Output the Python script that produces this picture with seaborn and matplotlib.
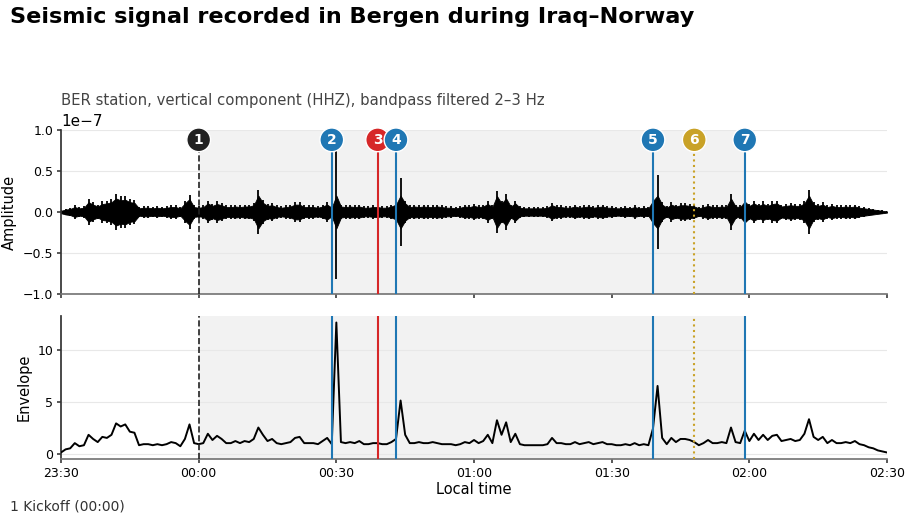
import matplotlib
matplotlib.use("Agg")
import matplotlib.pyplot as plt
import seaborn as sns
import pandas as pd
import numpy as np


# minutes after 23:30 (one sample per minute)
minutes = list(range(0, 181))

# envelope
envelope = [
  0.1, 0.4, 0.5, 1.0, 0.7, 0.8, 1.8, 1.4, 1.1, 1.6,
  1.5, 1.8, 2.9, 2.6, 2.8, 2.1, 2.0, 0.8, 0.9, 0.9,
  0.8, 0.9, 0.8, 0.9, 1.1, 1.0, 0.7, 1.4, 2.8, 1.0,
  0.9, 1.0, 1.9, 1.3, 1.7, 1.4, 1.0, 1.0, 1.2, 1.0,
  1.2, 1.1, 1.4, 2.5, 1.8, 1.2, 1.4, 1.0, 0.9, 1.0,
  1.1, 1.5, 1.6, 1.0, 1.0, 1.0, 0.9, 1.2, 1.5, 0.9,
  12.6, 1.1, 1.0, 1.1, 1.0, 1.2, 0.9, 0.9, 1.0, 1.0,
  0.9, 0.9, 1.1, 1.4, 5.1, 1.8, 1.0, 1.0, 1.1, 1.0,
  1.0, 1.1, 1.0, 0.9, 0.9, 0.9, 0.8, 0.9, 1.1, 1.0,
  1.3, 1.0, 1.2, 1.8, 1.0, 3.2, 1.8, 3.0, 1.1, 1.9,
  0.9, 0.8, 0.8, 0.8, 0.8, 0.8, 0.9, 1.5, 1.0, 1.0,
  0.9, 0.9, 1.1, 0.9, 1.0, 1.1, 0.9, 1.0, 1.1, 0.9,
  0.9, 0.8, 0.8, 0.9, 0.8, 1.0, 0.8, 0.9, 0.8, 2.4,
  6.5, 1.5, 0.9, 1.5, 1.1, 1.4, 1.4, 1.3, 1.1, 0.8,
  1.0, 1.3, 1.0, 1.0, 1.1, 1.0, 2.5, 1.1, 1.0, 2.2,
  1.2, 1.9, 1.3, 1.8, 1.3, 1.7, 1.8, 1.2, 1.3, 1.4,
  1.2, 1.3, 1.9, 3.3, 1.6, 1.3, 1.6, 1.0, 1.3, 1.0,
  1.0, 1.1, 1.0, 1.2, 0.9, 0.8, 0.6, 0.5, 0.3, 0.2,
  0.1]

# peak trace amplitude per minute (units of 1e-7), upper panel
wave_peak = [
  0.02, 0.04, 0.05, 0.08, 0.06, 0.07, 0.16, 0.12, 0.09, 0.13,
  0.14, 0.16, 0.22, 0.19, 0.20, 0.16, 0.15, 0.06, 0.07, 0.07,
  0.06, 0.07, 0.06, 0.07, 0.08, 0.08, 0.06, 0.14, 0.21, 0.08,
  0.07, 0.08, 0.14, 0.10, 0.13, 0.11, 0.08, 0.08, 0.09, 0.08,
  0.09, 0.09, 0.11, 0.27, 0.15, 0.10, 0.11, 0.08, 0.07, 0.08,
  0.09, 0.12, 0.12, 0.08, 0.08, 0.08, 0.07, 0.09, 0.12, 0.07,
  0.82, 0.09, 0.08, 0.09, 0.08, 0.09, 0.07, 0.07, 0.08, 0.08,
  0.07, 0.07, 0.09, 0.12, 0.42, 0.14, 0.08, 0.09, 0.08, 0.09,
  0.08, 0.08, 0.09, 0.08, 0.07, 0.07, 0.06, 0.07, 0.09, 0.08,
  0.10, 0.08, 0.09, 0.13, 0.08, 0.26, 0.14, 0.22, 0.09, 0.14,
  0.07, 0.06, 0.06, 0.06, 0.06, 0.06, 0.07, 0.11, 0.08, 0.08,
  0.07, 0.07, 0.09, 0.07, 0.08, 0.09, 0.07, 0.08, 0.09, 0.07,
  0.07, 0.06, 0.06, 0.07, 0.06, 0.08, 0.06, 0.07, 0.06, 0.18,
  0.45, 0.12, 0.07, 0.12, 0.09, 0.11, 0.11, 0.10, 0.09, 0.06,
  0.08, 0.10, 0.08, 0.08, 0.09, 0.08, 0.22, 0.09, 0.08, 0.17,
  0.10, 0.14, 0.10, 0.13, 0.10, 0.13, 0.14, 0.09, 0.10, 0.11,
  0.10, 0.10, 0.14, 0.27, 0.12, 0.10, 0.12, 0.08, 0.10, 0.08,
  0.08, 0.09, 0.08, 0.09, 0.07, 0.06, 0.05, 0.04, 0.03, 0.02,
  0.01]

tick_minutes = [0, 30, 60, 90, 120, 150, 180]
tick_labels = ["23:30", "00:00", "00:30", "01:00", "01:30", "02:00", "02:30"]

event_ids = ["1", "2", "3", "4", "5", "6", "7"]
event_minutes = [30, 59, 69, 73, 129, 138, 149]
event_colors = ["#222222", "#1f77b4", "#d62728", "#1f77b4", "#1f77b4", "#c9a227", "#1f77b4"]
event_styles = ["--", "-", "-", "-", "-", ":", "-"]
match_span = (30, 149)

sns.set_theme(style="ticks")
plt.rcParams['font.family'] = ['DejaVu Sans']
plt.rcParams.update({"text.color": "black", "axes.labelcolor": "black",
                     "xtick.color": "black", "ytick.color": "black"})

df = pd.DataFrame({"minute": minutes, "envelope": envelope,
                   "wave": np.array(wave_peak) * 1e-7})

fig = plt.figure(figsize=(9.12, 5.13), dpi=100)
ax1 = fig.add_axes([0.0669, 0.4269, 0.9057, 0.3197])
ax2 = fig.add_axes([0.0669, 0.1053, 0.9057, 0.2787], sharex=ax1)

for ax in (ax1, ax2):
  ax.axvspan(*match_span, color="#f2f2f2", zorder=0, lw=0)
  ax.grid(axis="y", color="#e8e8e8", lw=0.8)
  ax.set_axisbelow(True)
  for s in ("top", "right"):
    ax.spines[s].set_visible(False)
  ax.spines["left"].set_color("#333333")
  ax.spines["bottom"].set_color("#777777")
  ax.tick_params(labelsize=9, length=3, pad=2.5, color="#444444")

# waveform: solid core plus per-minute peak strokes
core = np.minimum(0.75 * df.wave, 0.2e-7)
ax1.fill_between(df.minute, -core, core, color="black", lw=0.6,
                 edgecolor="black", zorder=2)
ax1.vlines(df.minute, -df.wave, df.wave, color="black", lw=1.3, zorder=2)
ax1.set_ylim(-1e-7, 1e-7)
ax1.set_ylabel("Amplitude", fontsize=10.5)
ax1.tick_params(labelbottom=False)
ax1.set_title("BER station, vertical component (HHZ), bandpass filtered 2\u20133 Hz",
              loc="left", fontsize=10.7, color="#444444")

sns.lineplot(data=df, x="minute", y="envelope", color="black", lw=1.4, ax=ax2, zorder=3)
ax2.set_ylabel("Envelope", fontsize=10.5)
ax2.set_xlabel("Local time", fontsize=10.5, labelpad=2)
ax2.set_xlim(0, 180)
ax2.set_xticks(tick_minutes)
ax2.set_xticklabels(tick_labels)

for eid, m, c, ls in zip(event_ids, event_minutes, event_colors, event_styles):
  lw = 1.2 if ls == "--" else 1.5
  ax1.axvline(m, ymin=0, ymax=0.87, color=c, ls=ls, lw=lw, zorder=4)
  ax2.axvline(m, color=c, ls=ls, lw=lw, zorder=4)
  ax1.text(m, 0.94, eid, transform=ax1.get_xaxis_transform(), ha="center", va="center",
           color="white", fontsize=10, fontweight="bold", zorder=6,
           bbox=dict(boxstyle="circle,pad=0.35", fc=c, ec="white", lw=1))

fig.text(0.011, 0.967, "Seismic signal recorded in Bergen during Iraq\u2013Norway",
         fontsize=16.1, fontweight="bold", va="center", ha="left")
fig.text(0.011, 0.012, "1 Kickoff (00:00)", fontsize=10, color="#333333",
         va="center", ha="left")

fig.savefig("out.png", dpi=100)
